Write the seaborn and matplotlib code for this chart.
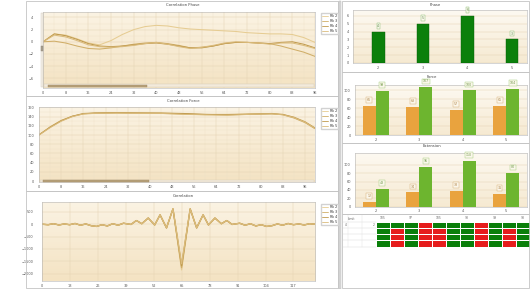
import numpy as np
import pandas as pd
import matplotlib
matplotlib.use("Agg")
import matplotlib.pyplot as plt
import seaborn as sns
from matplotlib.patches import Rectangle
from matplotlib.lines import Line2D
from matplotlib.colors import ListedColormap, LinearSegmentedColormap
from matplotlib.ticker import AutoMinorLocator

# ---------------- data ----------------
series_names = ["Rk 2", "Rk 3", "Rk 4", "Rk 5"]

phase_x = [0, 4, 8, 12, 16, 20, 24, 28, 32, 36, 40, 44, 48, 52, 56, 60, 64, 68, 72, 76, 80, 84, 88, 92, 96]
phase_rk2 = [0, 1.3, 1.1, 0.5, -0.2, -0.5, 0.2, 1.2, 2.0, 2.5, 2.7, 2.6, 2.3, 2.1, 2.0, 1.9, 1.8, 1.7, 1.5, 1.4, 1.3, 1.3, 1.2, 0.7, -0.1]
phase_rk3 = [0, 0.1, -0.2, -0.7, -1.1, -1.2, -1.0, -0.7, -0.4, -0.2, -0.1, -0.3, -0.6, -1.0, -0.9, -0.7, -0.3, -0.1, -0.1, -0.2, -0.3, -0.7, -1.2, -1.7, -2.4]
phase_rk4 = [0, 1.3, 1.0, 0.4, -0.3, -0.7, -0.8, -0.7, -0.5, -0.3, -0.2, -0.4, -0.7, -1.0, -1.0, -0.7, -0.3, -0.1, -0.1, -0.2, -0.3, -0.1, 0.0, -0.4, -1.0]
phase_rk5 = [0, 1.1, 0.8, 0.2, -0.5, -0.8, -0.9, -0.8, -0.6, -0.3, -0.1, -0.4, -0.8, -1.1, -0.9, -0.6, -0.2, 0.0, -0.1, -0.2, -0.4, -0.2, -0.2, -0.6, -1.1]

force_x = [0, 4, 8, 12, 16, 20, 28, 36, 44, 52, 60, 68, 76, 84, 88, 92, 96, 99.5]
force_rk2 = [100, 117, 131, 140, 146, 147, 148, 148, 148, 146, 144, 144, 146, 147, 145, 138, 128, 115]
force_rk3 = [100, 118, 132, 141, 146, 148, 148, 148, 147, 146, 145, 145, 146, 147, 144, 137, 127, 114]
force_rk4 = [101, 117, 131, 141, 147, 148, 149, 148, 148, 147, 145, 144, 145, 146, 145, 139, 129, 116]
force_rk5 = [100, 116, 130, 140, 146, 147, 148, 147, 147, 145, 144, 143, 145, 146, 144, 138, 128, 115]

corr_x = [0, 3, 5.5, 8, 10.5, 13, 15.5, 18, 20.5, 23, 25.5, 28, 30.5, 33, 35.5, 38, 41.5, 44, 46.5,
          49.5, 52.5, 55, 58, 61, 65, 69, 72, 75, 77.5, 80.5, 83.5, 86, 88.5, 92, 94.5, 97, 99.5,
          102, 104.5, 107, 109.5, 112, 114.5, 117, 119.5, 122, 124.5, 127]
corr_y = [0, -20, 20, -30, 10, -20, 30, -40, 10, -60, -90, -20, -70, 20, -40, 40, -10, 150, 20,
          250, -30, 380, -150, 620, -1850, 620, -150, 380, -30, 250, 20, 150, -10, 40, -40, 20, -70,
          -20, -90, -60, 10, -40, 30, -20, 10, -30, 20, 0]
corr_trough = [-1850, -1760, -1680, -1600]

bar_cats = ["2", "3", "4", "5"]
phase_vals = [4, 5, 6, 3]
force_a = [66, 63, 57, 65]
force_b = [99, 107, 100, 104]
ext_a = [12, 34, 38, 31]
ext_b = [43, 95, 110, 80]

table_rows = ["2", "3", "4", "5"]
table_cols = ["105", "100", "97", "97", "105", "97", "98", "97", "99", "97", "98"]
table_status = [
    [1, 1, 1, 0, 1, 1, 1, 0, 1, 1, 1],
    [1, 0, 1, 0, 0, 1, 1, 0, 1, 0, 1],
    [1, 0, 1, 0, 0, 1, 1, 0, 1, 0, 1],
    [1, 0, 1, 0, 0, 1, 1, 0, 1, 0, 1],
]

# ---------------- setup ----------------
sns.set_theme(style="white")
plt.rcParams["font.family"] = ["DejaVu Sans"]

W, H = 530, 289
fig = plt.figure(figsize=(W / 100, H / 100), dpi=100)
fig.patch.set_facecolor("white")


def px_axes(x0, y0, x1, y1):
    return fig.add_axes([x0 / W, 1 - y1 / H, (x1 - x0) / W, (y1 - y0) / H])


def frect(x0, y0, x1, y1, fill=False, fc="none", ec="#c4c4c4", lw=0.6, z=0):
    fig.patches.append(Rectangle((x0 / W, 1 - y1 / H), (x1 - x0) / W, (y1 - y0) / H,
                                 transform=fig.transFigure, fill=fill, fc=fc, ec=ec, lw=lw, zorder=z))


def ftext(x, y, s, size=2.7, ha="center", color="#444444"):
    fig.text(x / W, 1 - y / H, s, fontsize=size, ha=ha, va="center", color=color)


def gradient_bg(ax, top="#fbf3e3", bottom="#f4e3c3"):
    cmap = LinearSegmentedColormap.from_list("g", [bottom, top])
    ax.imshow(np.linspace(0, 1, 64).reshape(-1, 1), extent=[0, 1, 0, 1], transform=ax.transAxes,
              aspect="auto", cmap=cmap, origin="lower", zorder=-10)


def style_axes(ax, xlim, ylim, xticks, yticks, ypad=2.0, minor=True):
    ax.set_xlim(*xlim)
    ax.set_ylim(*ylim)
    ax.set_xticks(xticks)
    ax.set_yticks(yticks)
    ax.tick_params(labelsize=2.5, colors="#555555", length=1.0, width=0.3)
    ax.tick_params(axis="y", pad=ypad)
    ax.tick_params(axis="x", pad=1.0)
    if minor:
        ax.xaxis.set_minor_locator(AutoMinorLocator(2))
        ax.yaxis.set_minor_locator(AutoMinorLocator(2))
        ax.tick_params(which="minor", length=0)
        ax.grid(True, which="minor", color="#eee0c6", lw=0.25)
    ax.grid(True, which="major", color="#e4d3b3", lw=0.35)
    for s in ax.spines.values():
        s.set_color("#b5b5b5")
        s.set_linewidth(0.4)
    ax.set_xlabel("")
    ax.set_ylabel("")


LINE_COLORS = ["#e6cc92", "#d0ae68", "#c09a4e", "#dabb7c"]
palette = dict(zip(series_names, LINE_COLORS))


def long_df(x, ys):
    rows = []
    for name, y in zip(series_names, ys):
        for xi, yi in zip(x, y):
            rows.append((name, xi, yi))
    return pd.DataFrame(rows, columns=["series", "x", "y"])


def add_legend(y_top):
    handles = [Line2D([0], [0], color=c, lw=0.6) for c in LINE_COLORS]
    fig.legend(handles, series_names, loc="upper left",
               bbox_to_anchor=(319 / W, 1 - y_top / H), fontsize=2.3, frameon=True,
               handlelength=2.0, handletextpad=0.5, labelspacing=0.3, borderpad=0.4,
               edgecolor="#d2d2d2", fancybox=False, framealpha=1)


# ---------------- frames ----------------
frect(26, 1, 338, 96)
frect(26, 96, 338, 191)
frect(26, 191, 338, 288)
frect(338.5, 0.5, 341, 288.5, fill=True, fc="#dcdcdc", ec="#b0b0b0", lw=0.3)
frect(342, 1, 529, 72)
frect(342, 72, 529, 143)
frect(342, 143, 529, 214)
frect(342, 214, 529, 288)

# ---------------- Correlation Phase ----------------
ax1 = px_axes(43, 12, 315, 88)
gradient_bg(ax1)
sns.lineplot(data=long_df(phase_x, [phase_rk2, phase_rk3, phase_rk4, phase_rk5]), x="x", y="y",
             hue="series", palette=palette, estimator=None, lw=0.75, legend=False, ax=ax1)
style_axes(ax1, (0, 96), (-7.6, 4.9), list(range(0, 97, 8)), [4, 2, 0, -2, -4, -6], ypad=6)
ftext(183, 5, "Correlation Phase")
add_legend(11)
# scrollbars
frect(44, 84.5, 314, 87, fill=True, fc="#f3eadb", ec="#d5cbb8", lw=0.3, z=5)
frect(48, 84.7, 147, 86.8, fill=True, fc="#b9a27a", ec="#9c8662", lw=0.3, z=6)
frect(40.5, 13, 42.5, 87, fill=True, fc="#f4f0e8", ec="#cfc8bb", lw=0.3, z=5)
frect(40.5, 46, 42.5, 51, fill=True, fc="#a8a090", ec="#8d8576", lw=0.3, z=6)

# ---------------- Correlation Force ----------------
ax2 = px_axes(39, 107, 315, 182)
gradient_bg(ax2)
sns.lineplot(data=long_df(force_x, [force_rk2, force_rk3, force_rk4, force_rk5]), x="x", y="y",
             hue="series", palette=palette, estimator=None, lw=0.7, legend=False, ax=ax2)
style_axes(ax2, (0, 99.6), (-2, 161), list(range(0, 97, 8)), list(range(0, 161, 20)), ypad=2.5)
ftext(183, 100.5, "Correlation Force")
add_legend(106)
frect(40, 179.5, 314, 182, fill=True, fc="#f3eadb", ec="#d5cbb8", lw=0.3, z=5)
frect(43, 179.7, 149, 181.8, fill=True, fc="#b9a27a", ec="#9c8662", lw=0.3, z=6)

# ---------------- Correlation ----------------
ax3 = px_axes(41.7, 202, 315, 281)
gradient_bg(ax3)
corr_series = []
for t in corr_trough:
    corr_series.append([t if v == min(corr_y) else v for v in corr_y])
sns.lineplot(data=long_df(corr_x, corr_series), x="x", y="y", hue="series", palette=palette,
             estimator=None, lw=0.9, legend=False, ax=ax3)
style_axes(ax3, (0, 127), (-2300, 900), list(range(0, 118, 13)), [500, 0, -500, -1000, -1500, -2000],
           ypad=5, minor=False)
ftext(183, 196, "Correlation")
add_legend(202)

# ---------------- right: bar charts ----------------
def label_bars(ax, values, positions, color, ec):
    for p, v in zip(positions, values):
        ax.annotate(str(v), (p, v), xytext=(0, 4.2), textcoords="offset points", ha="center",
                    va="center", fontsize=2.3, color=color,
                    bbox=dict(boxstyle="square,pad=0.25", fc="#fbf7ec", ec=ec, lw=0.35))


axp = px_axes(353, 10, 527, 63)
gradient_bg(axp, "#fdf9f1", "#f6ead2")
dfp = pd.DataFrame({"cat": bar_cats, "val": phase_vals})
sns.barplot(data=dfp, x="cat", y="val", color="#0b800b", width=0.28, saturation=1,
            edgecolor="#075c07", linewidth=0.3, ax=axp)
style_axes(axp, (-0.57, 3.34), (0, 6.75), [0, 1, 2, 3], list(range(0, 7)), ypad=2, minor=False)
axp.set_xticks([0, 1, 2, 3], bar_cats)
axp.grid(False, axis="x")
label_bars(axp, phase_vals, [0, 1, 2, 3], "#5c8a4a", "#8fbf7a")
ftext(435, 5, "Phase")

dff = pd.DataFrame({"cat": bar_cats * 2, "grp": ["a"] * 4 + ["b"] * 4, "val": force_a + force_b})
axf = px_axes(355, 85, 527, 135)
gradient_bg(axf, "#fdf9f1", "#f6ead2")
sns.barplot(data=dff, x="cat", y="val", hue="grp", palette={"a": "#e9a33e", "b": "#6db52f"},
            width=0.6, gap=0, saturation=1, legend=False, edgecolor="none", ax=axf)
style_axes(axf, (-0.48, 3.48), (0, 112), [0, 1, 2, 3], list(range(0, 101, 20)), ypad=2, minor=False)
axf.set_xticks([0, 1, 2, 3], bar_cats)
axf.grid(False, axis="x")
label_bars(axf, force_a, [-0.15, 0.85, 1.85, 2.85], "#b08548", "#d8b27a")
label_bars(axf, force_b, [0.15, 1.15, 2.15, 3.15], "#6f9a48", "#a6cf80")
ftext(432, 77, "Force")

dfe = pd.DataFrame({"cat": bar_cats * 2, "grp": ["a"] * 4 + ["b"] * 4, "val": ext_a + ext_b})
axe = px_axes(355, 153, 527, 206.7)
gradient_bg(axe, "#fdf9f1", "#f6ead2")
sns.barplot(data=dfe, x="cat", y="val", hue="grp", palette={"a": "#e9a33e", "b": "#6db52f"},
            width=0.6, gap=0, saturation=1, legend=False, edgecolor="none", ax=axe)
style_axes(axe, (-0.48, 3.48), (0, 128), [0, 1, 2, 3], list(range(0, 101, 20)), ypad=2, minor=False)
axe.set_xticks([0, 1, 2, 3], bar_cats)
axe.grid(False, axis="x")
label_bars(axe, ext_a, [-0.15, 0.85, 1.85, 2.85], "#b08548", "#d8b27a")
label_bars(axe, ext_b, [0.15, 1.15, 2.15, 3.15], "#6f9a48", "#a6cf80")
ftext(432, 146, "Extension")

# ---------------- table heatmap ----------------
axh = px_axes(376, 222, 530, 246.5)
dft = pd.DataFrame(table_status, index=table_rows, columns=table_cols)
sns.heatmap(dft, ax=axh, cmap=ListedColormap(["#e61c1c", "#0a7f0a"]), vmin=0, vmax=1, cbar=False,
            linewidths=0.45, linecolor="white")
axh.xaxis.tick_top()
axh.tick_params(axis="x", labelsize=2.2, length=0, pad=1.2, colors="#666666", labelrotation=0)
axh.tick_params(axis="y", labelsize=2.2, length=0, pad=1.2, colors="#666666", labelrotation=0)
axh.set_xlabel("")
axh.set_ylabel("")
ftext(348, 218.5, "Limit", size=2.2, ha="left", color="#666666")
ftext(345, 225, "4", size=2.2, ha="left", color="#666666")
for yy in [221.5, 228, 234, 240, 246.5]:
    fig.add_artist(Line2D([343 / W, 376 / W], [1 - yy / H, 1 - yy / H], transform=fig.transFigure,
                          color="#d8d8d8", lw=0.3))
for xx in [348, 362]:
    fig.add_artist(Line2D([xx / W, xx / W], [1 - 215 / H, 1 - 246.5 / H], transform=fig.transFigure,
                          color="#dedede", lw=0.3))

fig.savefig("out.png", dpi=100, facecolor="white")
